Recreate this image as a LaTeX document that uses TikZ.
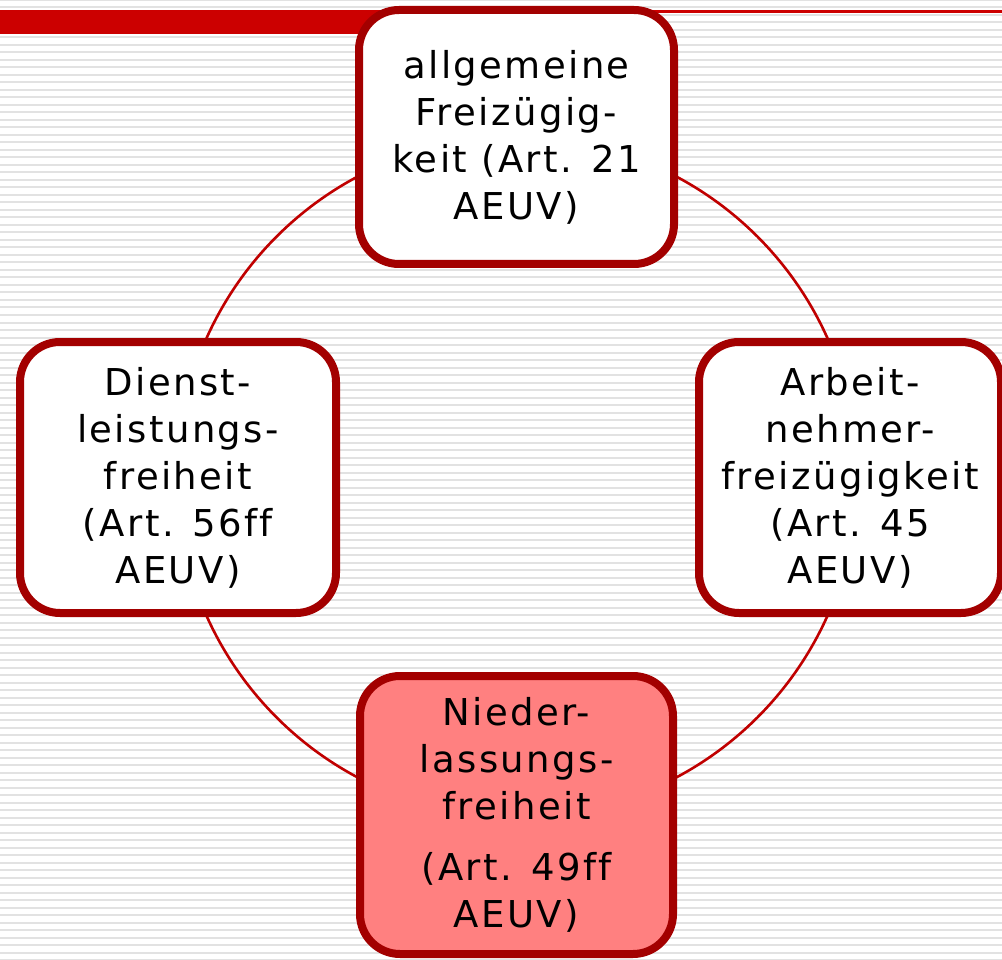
\documentclass[tikz,border=0pt]{standalone}
\usepackage{fontspec}
\newfontfamily\boxfont[LetterSpace=6.5,Ligatures=NoCommon]{DejaVu Sans}
\definecolor{barred}{HTML}{CC0000}
\definecolor{boxred}{HTML}{A30000}
\definecolor{circred}{HTML}{C00000}
\definecolor{stripegray}{HTML}{E2E2E2}
\definecolor{pinkfill}{HTML}{FF8080}
\tikzset{
  freebox/.style={draw=boxred, line width=8pt, rounded corners=40pt, fill=white,
    inner sep=0pt, align=center, text=black,
    font={\boxfont\fontsize{37}{47}\selectfont}},
  stripe/.style={fill=stripegray},
}
\begin{document}
\begin{tikzpicture}[x=1pt,y=-1pt]
\useasboundingbox (0,0) rectangle (1002,960);
\clip (0,0) rectangle (1002,960);
\fill[white] (0,0) rectangle (1002,960);
\foreach \i in {0,...,128} {
  \fill[stripe] (0,\i*7.5-1) rectangle (1002,\i*7.5+1);
}
\fill[barred] (0,10) rectangle (1002,13.5);
\fill[barred] (0,10) rectangle (400,34);
\coordinate (c) at (517,477);
\draw[circred, line width=2.6pt] (c) circle (340);
\node[freebox, minimum width=315pt, minimum height=254pt] (top) at (516.5,137)
  {allgemeine\\Freizügig-\\keit (Art. 21\\AEUV)};
\node[freebox, minimum width=316pt, minimum height=271pt] (left) at (178,477.5)
  {Dienst-\\leistungs-\\freiheit\\(Art. 56ff\\AEUV)};
\node[freebox, minimum width=302pt, minimum height=271pt] (right) at (850,477.5)
  {Arbeit-\\nehmer-\\freizügigkeit\\(Art. 45\\AEUV)};
\node[freebox, fill=pinkfill, minimum width=313pt, minimum height=278pt] (bottom) at (516.5,815)
  {Nieder-\\lassungs-\\freiheit\\[14pt](Art. 49ff\\AEUV)};
\end{tikzpicture}
\end{document}
